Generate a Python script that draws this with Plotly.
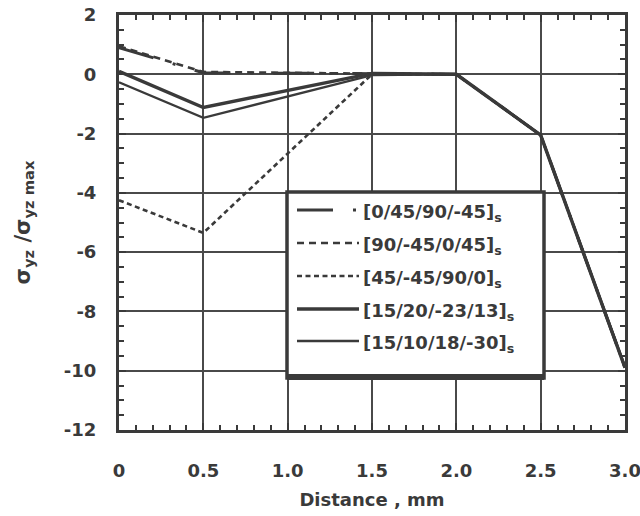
import plotly.graph_objects as go

# Distance along the section (mm) and normalised interlaminar shear stress
distance = [0.0, 0.5, 1.5, 2.0, 2.5, 3.0]

layup_labels = [
    "[0/45/90/-45]",
    "[90/-45/0/45]",
    "[45/-45/90/0]",
    "[15/20/-23/13]",
    "[15/10/18/-30]",
]

stress_0_45_90_m45 = [0.90, 0.05, 0.02, 0.0, -2.05, -9.90]
stress_90_m45_0_45 = [0.95, 0.08, 0.02, 0.0, -2.05, -9.90]
stress_45_m45_90_0 = [-4.25, -5.35, 0.0, 0.0, -2.05, -9.90]
stress_15_20_m23_13 = [0.10, -1.12, 0.03, 0.0, -2.05, -9.90]
stress_15_10_18_m30 = [-0.27, -1.47, -0.03, 0.0, -2.05, -9.85]

series = [stress_0_45_90_m45, stress_90_m45_0_45, stress_45_m45_90_0,
          stress_15_20_m23_13, stress_15_10_18_m30]

x_tickvals = [0, 0.5, 1.0, 1.5, 2.0, 2.5, 3.0]
x_ticktext = ["0", "0.5", "1.0", "1.5", "2.0", "2.5", "3.0"]
y_tickvals = [2, 0, -2, -4, -6, -8, -10, -12]
y_ticktext = ["2", "0", "-2", "-4", "-6", "-8", "-10", "-12"]

# line styles: (dash pattern, width)
styles = [
    ("36px,20px,3px,20px", 3.0),
    ("7px,5px", 2.6),
    ("5px,3.5px", 2.6),
    ("solid", 3.4),
    ("solid", 2.3),
]

INK = "#3a3a3a"
FONT = dict(family="DejaVu Sans", size=18, color=INK, weight="bold")
TITLE_FONT = dict(family="DejaVu Sans", size=21, color=INK, weight="bold")

W, H = 640, 516
L, R, T, B = 119, 15, 15, 86
PW, PH = W - L - R, H - T - B


def px_x(p):
    return (p - L) / PW


def px_y(p):
    return (H - B - p) / PH


fig = go.Figure()

for vals, (dash, width) in zip(series, styles):
    fig.add_trace(go.Scatter(
        x=distance, y=vals, mode="lines",
        line=dict(color=INK, width=width, dash=dash),
        showlegend=False, hoverinfo="skip",
    ))

# legend panel with its own line samples and labels
box = dict(x0=px_x(287), x1=px_x(544), y0=px_y(378), y1=px_y(192))
fig.add_shape(type="rect", xref="paper", yref="paper", layer="above",
              fillcolor="white", line=dict(color=INK, width=3.5), **box)
fig.add_shape(type="line", xref="paper", yref="paper", layer="above",
              x0=box["x0"], x1=box["x1"], y0=px_y(377), y1=px_y(377),
              line=dict(color=INK, width=6))

row_y = [210, 243, 276, 309, 341]
for label, (dash, width), ry in zip(layup_labels, styles, row_y):
    fig.add_shape(type="line", xref="paper", yref="paper", layer="above",
                  x0=px_x(297), x1=px_x(359), y0=px_y(ry), y1=px_y(ry),
                  line=dict(color=INK, width=width, dash=dash))
    fig.add_annotation(xref="paper", yref="paper", x=px_x(361), y=px_y(ry + 3),
                       xanchor="left", yanchor="middle", showarrow=False,
                       text=label + "<sub>s</sub>", font=FONT)

axis_common = dict(
    showline=True, linecolor=INK, linewidth=3, mirror="allticks",
    showgrid=True, gridcolor="#4a4a4a", gridwidth=1.6,
    ticks="inside", ticklen=7, tickwidth=2, tickcolor=INK,
    zeroline=False, tickfont=FONT, automargin=False,
)

fig.update_xaxes(
    range=[0, 3], tickmode="array", tickvals=x_tickvals, ticktext=x_ticktext,
    minor=dict(dtick=0.1, ticks="inside", ticklen=5, tickwidth=2,
               tickcolor=INK, showgrid=False),
    ticklabelstandoff=22, ticklabeloverflow="allow",
    title=dict(text="Distance , mm", font=FONT, standoff=14),
    **axis_common,
)
fig.update_yaxes(
    range=[-12, 2], tickmode="array", tickvals=y_tickvals, ticktext=y_ticktext,
    minor=dict(dtick=0.5, ticks="inside", ticklen=5, tickwidth=2,
               tickcolor=INK, showgrid=False),
    ticklabelstandoff=16,
    title=dict(text="σ<sub>yz</sub> /σ<sub>yz max</sub>", font=TITLE_FONT,
               standoff=28),
    **axis_common,
)

fig.update_layout(
    width=W, height=H,
    margin=dict(l=L, r=R, t=T, b=B),
    paper_bgcolor="white", plot_bgcolor="white",
    showlegend=False,
)

fig.write_html("out.html")
